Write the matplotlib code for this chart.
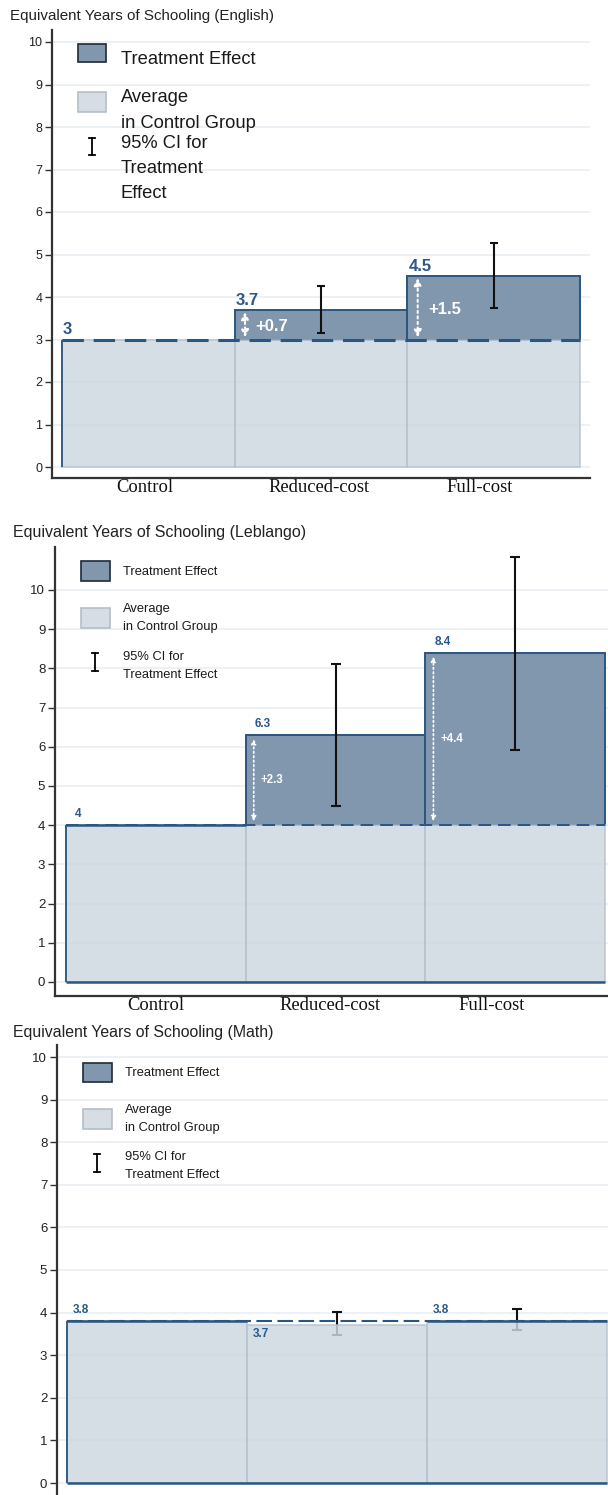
import matplotlib
matplotlib.use("Agg")
import matplotlib.pyplot as plt
from matplotlib.patches import Rectangle
from matplotlib.lines import Line2D

FIG_W, FIG_H, DPI = 608, 1495, 100

GROUPS = ["Control", "Reduced-cost", "Full-cost"]
Y_TICKS = list(range(11))

english_means = [3.0, 3.7, 4.5]
english_ci_low = [None, 3.15, 3.75]
english_ci_high = [None, 4.25, 5.28]

leblango_means = [4.0, 6.3, 8.4]
leblango_ci_low = [None, 4.5, 5.92]
leblango_ci_high = [None, 8.1, 10.85]

math_means = [3.8, 3.7, 3.8]
math_ci_low = [None, 3.48, 3.6]
math_ci_high = [None, 4.02, 4.09]

LEGEND_TE = ["Treatment Effect"]
LEGEND_AVG = ["Average", "in Control Group"]
LEGEND_CI_WIDE = ["95% CI for", "Treatment", "Effect"]
LEGEND_CI = ["95% CI for", "Treatment Effect"]

DARK_FILL = "#8197ad"
DARK_EDGE = "#2a5682"
VALUE_BLUE = "#2a5989"
LIGHT_FACE = "#cdd6e0"
LIGHT_ALPHA = 0.83
LIGHT_EDGE = "#b3c1cf"
GRID = "#e8eff3"
AXIS = "#333333"
SANS = ["Liberation Sans", "DejaVu Sans"]
SERIF = ["Liberation Serif", "DejaVu Serif"]

plt.rcParams["font.family"] = SANS

fig = plt.figure(figsize=(FIG_W / DPI, FIG_H / DPI), dpi=DPI)


def fx(px):
    return px / FIG_W


def fy(py):
    return 1 - py / FIG_H


def make_axes(frame, bars, zero_px, unit_px):
    left, right, top, bottom = frame
    ax = fig.add_axes([fx(left), fy(bottom), (right - left) / FIG_W, (bottom - top) / FIG_H])
    bl, br = bars
    s = (br - bl) / 3
    ax.set_xlim((left - bl) / s, 3 + (right - br) / s)
    ax.set_ylim((zero_px - bottom) / unit_px, (zero_px - top) / unit_px)
    return ax


def style_axes(ax, tick_size, xlab_size):
    for side in ("top", "right"):
        ax.spines[side].set_visible(False)
    for side in ("left", "bottom"):
        ax.spines[side].set_color(AXIS)
        ax.spines[side].set_linewidth(1.6)
    ax.set_yticks(Y_TICKS)
    ax.tick_params(axis="y", length=5, width=1, color=AXIS, labelsize=tick_size,
                   labelcolor="#222222", pad=2)
    ax.yaxis.grid(True, color=GRID, lw=1.2, zorder=0)
    ax.set_axisbelow(True)
    ax.tick_params(axis="x", length=0, pad=1)
    for lab in ax.get_xticklabels():
        lab.set_fontfamily(SERIF)
        lab.set_fontsize(xlab_size)
        lab.set_color("#111111")


def draw_panel(ax, means, ci_low, ci_high, cfg):
    control = means[0]
    for i, m in enumerate(means):
        base = min(m, control)
        ax.bar(i, base, width=1, align="edge", color=LIGHT_FACE, alpha=LIGHT_ALPHA,
               edgecolor=LIGHT_EDGE, lw=1.2, zorder=3)
        if m > control:
            ax.bar(i, m - control, bottom=control, width=1, align="edge",
                   color=DARK_FILL, edgecolor=DARK_EDGE, lw=1.4, zorder=1)
        if ci_low[i] is not None:
            mid = (ci_low[i] + ci_high[i]) / 2
            ax.errorbar(i + 0.5, mid, yerr=[[mid - ci_low[i]], [ci_high[i] - mid]],
                        fmt="none", ecolor="#111111", elinewidth=1.5, capsize=cfg["cap"],
                        capthick=1.5, zorder=2)

    # control-group edge and baseline
    ax.vlines(0, 0, control, colors=DARK_EDGE, lw=1.3, zorder=4)
    if cfg["solid_base"]:
        ax.hlines(0, 0, 3, colors=DARK_EDGE, lw=1.8, zorder=4)
        for i, m in enumerate(means):
            if m == control:
                ax.hlines(control, i, i + 1, colors=DARK_EDGE, lw=1.8, zorder=4)
    ax.hlines(control, 0, 3, colors=DARK_EDGE, lw=cfg["dash_lw"],
              linestyles=(0, cfg["dash"]), zorder=5)

    # value labels
    for i, m in enumerate(means):
        below = m < control
        ax.annotate(f"{m:g}", xy=(i, m), xytext=(cfg["val_dx"], -3 if below else cfg["val_dy"]),
                    textcoords="offset pixels", ha="left", va="top" if below else "bottom",
                    fontsize=cfg["val_size"], fontweight="bold", color=VALUE_BLUE, zorder=6)

    # effect arrows and labels
    for i, m in enumerate(means):
        if m > control:
            gap = cfg["arrow_gap"]
            x = i + cfg["arrow_dx"]
            ax.annotate("", xy=(x, m - gap), xytext=(x, control + gap),
                        arrowprops=dict(arrowstyle="<|-|>", color="white", lw=cfg["arrow_lw"],
                                        linestyle=":", mutation_scale=cfg["head"],
                                        shrinkA=0, shrinkB=0), zorder=6)
            ax.text(i + cfg["eff_dx"], (control + m) / 2 + cfg["eff_dy"], f"+{m - control:.1f}",
                    ha="left", va="center", fontsize=cfg["eff_size"], fontweight="bold",
                    color="white", zorder=6)


def draw_legend(lg):
    x0, x1 = lg["box_x"]
    y0, y1 = lg["te_box_y"]
    fig.add_artist(Rectangle((fx(x0), fy(y1)), (x1 - x0) / FIG_W, (y1 - y0) / FIG_H,
                             transform=fig.transFigure, facecolor=DARK_FILL,
                             edgecolor="#1f2a36", lw=1.2))
    y0, y1 = lg["avg_box_y"]
    fig.add_artist(Rectangle((fx(x0), fy(y1)), (x1 - x0) / FIG_W, (y1 - y0) / FIG_H,
                             transform=fig.transFigure, facecolor="#d6dde5",
                             edgecolor="#b5bec8", lw=1.2))
    cx = lg["ci_x"]
    c0, c1 = lg["ci_y"]
    fig.add_artist(Line2D([fx(cx), fx(cx)], [fy(c0), fy(c1)], transform=fig.transFigure,
                          color="black", lw=1.3))
    for cy in (c0, c1):
        fig.add_artist(Line2D([fx(cx - 3), fx(cx + 3)], [fy(cy), fy(cy)],
                              transform=fig.transFigure, color="black", lw=1.3))
    for lines, start in ((LEGEND_TE, lg["te_y"]), (LEGEND_AVG, lg["avg_y"]),
                         (lg["ci_lines"], lg["ci_text_y"])):
        for k, line in enumerate(lines):
            fig.text(fx(lg["text_x"]), fy(start + k * lg["step"]), line, ha="left",
                     va="center", fontsize=lg["size"], color="#1a1a1a")


panels = [
    dict(title="Equivalent Years of Schooling (English)", title_xy=(10, 16), title_size=10.9,
         means=english_means, lo=english_ci_low, hi=english_ci_high,
         frame=(52, 590, 30, 478), bars=(62, 580), zero=467, unit=42.5,
         show_x=True, tick_size=9, xlab_size=13.4, xticks=[0.48, 1.49, 2.42],
         cfg=dict(cap=3.2, solid_base=False, dash=(7, 3.2), dash_lw=2.2, val_dx=1, val_dy=2,
                  val_size=12, arrow_dx=0.06, arrow_gap=0.05, head=11, arrow_lw=1.5,
                  eff_dx=0.12, eff_dy=-0.05, eff_size=12),
         legend=dict(box_x=(78, 106), te_box_y=(44, 62), avg_box_y=(92, 112), ci_x=92,
                     ci_y=(138, 155), text_x=121, te_y=60, avg_y=98, ci_text_y=143,
                     step=25.5, size=13.2, ci_lines=LEGEND_CI_WIDE)),
    dict(title="Equivalent Years of Schooling (Leblango)", title_xy=(13, 532), title_size=11.5,
         means=leblango_means, lo=leblango_ci_low, hi=leblango_ci_high,
         frame=(55, 608, 547, 996), bars=(66, 605), zero=982, unit=39.2,
         show_x=True, tick_size=9.5, xlab_size=13.4, xticks=[0.50, 1.47, 2.37],
         cfg=dict(cap=3.4, solid_base=True, dash=(6.5, 3.6), dash_lw=1.4, val_dx=9, val_dy=5,
                  val_size=8.5, arrow_dx=0.045, arrow_gap=0.1, head=7, arrow_lw=1.2,
                  eff_dx=0.085, eff_dy=0, eff_size=8.3),
         legend=dict(box_x=(81, 110), te_box_y=(561, 581), avg_box_y=(608, 628), ci_x=95,
                     ci_y=(653, 671), text_x=123, te_y=572, avg_y=609, ci_text_y=657,
                     step=18, size=9.3, ci_lines=LEGEND_CI)),
    dict(title="Equivalent Years of Schooling (Math)", title_xy=(13, 1032), title_size=11.4,
         means=math_means, lo=math_ci_low, hi=math_ci_high,
         frame=(57, 608, 1045, 1500), bars=(67, 607), zero=1483, unit=42.6,
         show_x=False, tick_size=9.5, xlab_size=13.4, xticks=[0.50, 1.47, 2.37],
         cfg=dict(cap=3.4, solid_base=True, dash=(7.5, 2.6), dash_lw=1.5, val_dx=6, val_dy=5,
                  val_size=8.5, arrow_dx=0.045, arrow_gap=0.1, head=7, arrow_lw=1.2,
                  eff_dx=0.085, eff_dy=0, eff_size=8.3),
         legend=dict(box_x=(83, 112), te_box_y=(1063, 1082), avg_box_y=(1109, 1129), ci_x=97,
                     ci_y=(1154, 1172), text_x=125, te_y=1073, avg_y=1110, ci_text_y=1157,
                     step=18, size=9.3, ci_lines=LEGEND_CI)),
]

for p in panels:
    ax = make_axes(p["frame"], p["bars"], p["zero"], p["unit"])
    draw_panel(ax, p["means"], p["lo"], p["hi"], p["cfg"])
    ax.set_xticks(p["xticks"])
    ax.set_xticklabels(GROUPS if p["show_x"] else [])
    style_axes(ax, p["tick_size"], p["xlab_size"])
    tx, ty = p["title_xy"]
    fig.text(fx(tx), fy(ty), p["title"], ha="left", va="center",
             fontsize=p["title_size"], color="#222222")
    draw_legend(p["legend"])

fig.savefig("out.png", dpi=DPI)
